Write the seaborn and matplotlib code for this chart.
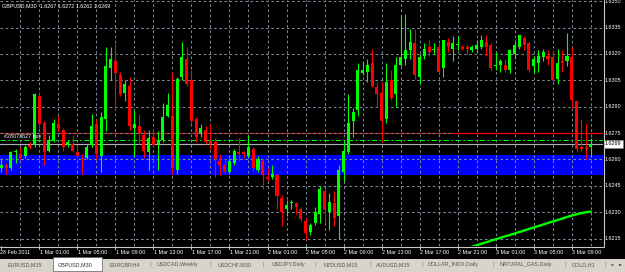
import matplotlib
matplotlib.use("Agg")
import matplotlib.pyplot as plt
import matplotlib.transforms as mtransforms
from matplotlib.patches import Rectangle
from matplotlib.lines import Line2D
import numpy as np
import pandas as pd
import seaborn as sns

# ---------------- data ----------------
symbol = "GBPUSD,M30"
opens = [1.6255, 1.6257, 1.6255, 1.6264, 1.6263, 1.6262, 1.6268, 1.6268, 1.6296, 1.6281,
         1.6265, 1.6271, 1.6280, 1.6277, 1.6268, 1.6269, 1.6264, 1.6261, 1.6261, 1.6268,
         1.6280, 1.6262, 1.6283, 1.6312, 1.6316, 1.6308, 1.6298, 1.6302, 1.6278, 1.6279,
         1.6274, 1.6264, 1.6273, 1.6269, 1.6271, 1.6285, 1.6285, 1.6254, 1.6307, 1.6317,
         1.6305, 1.6283, 1.6275, 1.6277, 1.6271, 1.6270, 1.6259, 1.6257, 1.6253, 1.6258,
         1.6264, 1.6264, 1.6262, 1.6266, 1.6254, 1.6259, 1.6250, 1.6250, 1.6251, 1.6238,
         1.6232, 1.6235, 1.6235, 1.6232, 1.6225, 1.6219, 1.6224, 1.6229, 1.6242, 1.6230,
         1.6235, 1.6228, 1.6253, 1.6264, 1.6282, 1.6288, 1.6309, 1.6310, 1.6315, 1.6301,
         1.6298, 1.6283, 1.6305, 1.6297, 1.6314, 1.6317, 1.6322, 1.6326, 1.6307, 1.6319,
         1.6324, 1.6322, 1.6324, 1.6312, 1.6327, 1.6323, 1.6325, 1.6324, 1.6324, 1.6322,
         1.6323, 1.6324, 1.6327, 1.6325, 1.6313, 1.6314, 1.6314, 1.6311, 1.6320, 1.6324,
         1.6329, 1.6326, 1.6313, 1.6315, 1.6318, 1.6319, 1.6318, 1.6306, 1.6316, 1.6316,
         1.6318, 1.6293, 1.6267, 1.6267, 1.6267]
highs = [1.6261, 1.6258, 1.6265, 1.6266, 1.6267, 1.6268, 1.6270, 1.6298, 1.6298, 1.6282,
         1.6274, 1.6283, 1.6285, 1.6278, 1.6271, 1.6274, 1.6268, 1.6263, 1.6269, 1.6286,
         1.6283, 1.6287, 1.6324, 1.6324, 1.6327, 1.6310, 1.6305, 1.6307, 1.6288, 1.6286,
         1.6277, 1.6277, 1.6277, 1.6276, 1.6292, 1.6298, 1.6310, 1.6307, 1.6327, 1.6324,
         1.6311, 1.6284, 1.6280, 1.6279, 1.6280, 1.6272, 1.6263, 1.6260, 1.6261, 1.6266,
         1.6272, 1.6265, 1.6274, 1.6267, 1.6262, 1.6261, 1.6255, 1.6257, 1.6252, 1.6240,
         1.6237, 1.6237, 1.6236, 1.6233, 1.6227, 1.6224, 1.6233, 1.6245, 1.6243, 1.6241,
         1.6242, 1.6257, 1.6271, 1.6297, 1.6289, 1.6315, 1.6316, 1.6317, 1.6323, 1.6304,
         1.6304, 1.6315, 1.6311, 1.6318, 1.6342, 1.6343, 1.6334, 1.6334, 1.6320, 1.6326,
         1.6328, 1.6326, 1.6326, 1.6328, 1.6329, 1.6330, 1.6330, 1.6325, 1.6325, 1.6325,
         1.6328, 1.6331, 1.6331, 1.6326, 1.6321, 1.6317, 1.6317, 1.6323, 1.6328, 1.6331,
         1.6330, 1.6327, 1.6319, 1.6322, 1.6323, 1.6322, 1.6322, 1.6323, 1.6322, 1.6332,
         1.6324, 1.6294, 1.6283, 1.6281, 1.6272]
lows = [1.6253, 1.6252, 1.6254, 1.6258, 1.6260, 1.6261, 1.6266, 1.6267, 1.6278, 1.6257,
        1.6264, 1.6270, 1.6276, 1.6265, 1.6267, 1.6264, 1.6261, 1.6252, 1.6260, 1.6267,
        1.6260, 1.6253, 1.6276, 1.6305, 1.6288, 1.6296, 1.6293, 1.6277, 1.6262, 1.6269,
        1.6261, 1.6254, 1.6267, 1.6254, 1.6270, 1.6284, 1.6252, 1.6252, 1.6305, 1.6302,
        1.6280, 1.6270, 1.6273, 1.6269, 1.6266, 1.6250, 1.6251, 1.6252, 1.6252, 1.6257,
        1.6259, 1.6261, 1.6261, 1.6253, 1.6253, 1.6243, 1.6248, 1.6249, 1.6232, 1.6222,
        1.6228, 1.6232, 1.6229, 1.6225, 1.6214, 1.6217, 1.6223, 1.6224, 1.6224, 1.6220,
        1.6222, 1.6215, 1.6248, 1.6263, 1.6273, 1.6285, 1.6308, 1.6304, 1.6301, 1.6290,
        1.6270, 1.6281, 1.6294, 1.6290, 1.6313, 1.6314, 1.6317, 1.6306, 1.6303, 1.6317,
        1.6319, 1.6320, 1.6309, 1.6307, 1.6321, 1.6316, 1.6322, 1.6322, 1.6320, 1.6321,
        1.6321, 1.6323, 1.6319, 1.6311, 1.6311, 1.6310, 1.6310, 1.6309, 1.6317, 1.6323,
        1.6322, 1.6310, 1.6309, 1.6310, 1.6316, 1.6314, 1.6304, 1.6303, 1.6310, 1.6313,
        1.6289, 1.6264, 1.6265, 1.6260, 1.6262]
closes = [1.6257, 1.6255, 1.6264, 1.6264, 1.6261, 1.6267, 1.6267, 1.6297, 1.6280, 1.6264,
          1.6271, 1.6281, 1.6278, 1.6267, 1.6270, 1.6265, 1.6262, 1.6260, 1.6267, 1.6279,
          1.6263, 1.6284, 1.6313, 1.6317, 1.6309, 1.6297, 1.6303, 1.6279, 1.6280, 1.6275,
          1.6265, 1.6272, 1.6268, 1.6271, 1.6284, 1.6291, 1.6255, 1.6306, 1.6318, 1.6303,
          1.6282, 1.6273, 1.6278, 1.6270, 1.6269, 1.6260, 1.6257, 1.6253, 1.6259, 1.6265,
          1.6263, 1.6263, 1.6267, 1.6255, 1.6260, 1.6251, 1.6249, 1.6252, 1.6239, 1.6230,
          1.6234, 1.6236, 1.6233, 1.6226, 1.6218, 1.6223, 1.6230, 1.6243, 1.6231, 1.6236,
          1.6227, 1.6254, 1.6265, 1.6281, 1.6287, 1.6311, 1.6311, 1.6314, 1.6302, 1.6297,
          1.6282, 1.6304, 1.6295, 1.6314, 1.6318, 1.6322, 1.6327, 1.6308, 1.6318, 1.6323,
          1.6321, 1.6323, 1.6310, 1.6328, 1.6324, 1.6326, 1.6325, 1.6323, 1.6323, 1.6324,
          1.6325, 1.6328, 1.6324, 1.6312, 1.6313, 1.6316, 1.6311, 1.6322, 1.6325, 1.6331,
          1.6325, 1.6311, 1.6317, 1.6319, 1.6321, 1.6317, 1.6305, 1.6315, 1.6315, 1.6319,
          1.6294, 1.6266, 1.6266, 1.6266, 1.6269]

# moving-average style line (bars 97..124)
ma_start_bar = 97
ma_values = [1.62086, 1.62095, 1.62104, 1.62112, 1.62121, 1.62129, 1.62138, 1.62146,
             1.62155, 1.62163, 1.62171, 1.62179, 1.62188, 1.62196, 1.62205, 1.62213,
             1.62222, 1.62230, 1.62239, 1.62247, 1.62256, 1.62264, 1.62273, 1.62281,
             1.62288, 1.62295, 1.62300, 1.62304]

price_ticks = [1.6350, 1.6335, 1.6320, 1.6305, 1.6290, 1.6275, 1.6260, 1.6245, 1.6230, 1.6215]
time_labels = ["28 Feb 2011", "1 Mar 01:00", "1 Mar 05:00", "1 Mar 09:00", "1 Mar 13:00",
               "1 Mar 17:00", "1 Mar 21:00", "2 Mar 01:00", "2 Mar 05:00", "2 Mar 09:00",
               "2 Mar 13:00", "2 Mar 17:00", "2 Mar 21:00", "3 Mar 01:00", "3 Mar 05:00",
               "3 Mar 09:00"]
bars_per_label = 8
bars_per_grid = 4

zone_low, zone_high = 1.62512, 1.62626
level_red = 1.6275
level_order = 1.6271
order_text = "#28073627 buy"
bid_price = closes[-1]

tabs = ["EURUSD,M15", "GBPUSD,M30", "EURGBP,H4", "USDCAD,Weekly", "USDCHF,M30",
        "USDJPY,Daily", "NZDUSD,M15", "AUDUSD,M15", "DOLLAR_INDX,Daily",
        "NATURAL_GAS,Daily", "GOLD,H1"]
active_tab = "GBPUSD,M30"

# ---------------- style ----------------
sns.set_style("dark")
plt.rcParams['font.family'] = ['Liberation Sans', 'DejaVu Sans']

W, H = 625, 272
fig = plt.figure(figsize=(W / 100, H / 100), dpi=100, facecolor='black')


def fx(px):
    return px / W


def fy(py):
    return 1 - py / H


CH_R, CH_B = 603, 246
ax = fig.add_axes([0, fy(CH_B), fx(CH_R), CH_B / H])
ax.set_facecolor('black')
ax.set_xlim(-0.267, 126.57)
ax.set_ylim(1.62108, 1.63507)
ax.set_xticks([])
ax.set_yticks([])
for s in ax.spines.values():
    s.set_visible(False)
ax.grid(False)

df = pd.DataFrame({"open": opens, "high": highs, "low": lows, "close": closes})
df["bar"] = np.arange(len(df))
df["up"] = df["close"] >= df["open"]
BULL, BEAR = '#00FF00', '#FF0000'
GRID = '#7A8898'

# zone
ax.axhspan(zone_low, zone_high, color='#0000FF', zorder=0.5, lw=0)

# grid
for p in price_ticks:
    ax.axhline(p, color=GRID, lw=0.75, ls=(0, (2.5, 2.5)), zorder=1)
for b in range(bars_per_grid, len(df) + 1, bars_per_grid):
    ax.axvline(b, color=GRID, lw=0.75, ls=(0, (2.5, 2.5)), zorder=1)

# horizontal levels
ax.axhline(level_red, color='#D00000', lw=0.8, zorder=0.9)
ax.plot([94.8, 126.57], [level_red, level_red], color='#FF0000', lw=0.8, zorder=4)
ax.axhline(level_order, color='#00FF00', lw=0.75, ls=(0, (5, 2.5, 1.5, 2.5)), zorder=1.5)
ax.axhline(bid_price, color='#B0B0B0', lw=0.8, zorder=1.5)
ax.text(0.55, 1.62733, order_text, color='white', fontsize=3.9, va='center', ha='left', zorder=5)

# candles
colors = np.where(df["up"], BULL, BEAR)
ax.vlines(df["bar"], df["low"], df["high"], colors=colors, lw=0.8, zorder=3)
body_h = np.maximum((df["close"] - df["open"]).abs(), 0.00006)
body_b = np.minimum(df["open"], df["close"])
ax.bar(df["bar"], body_h, bottom=body_b, width=0.64, color=colors, lw=0, zorder=3.5)

# MA line
ma_df = pd.DataFrame({"bar": np.arange(ma_start_bar, ma_start_bar + len(ma_values)),
                      "ma": ma_values})
sns.lineplot(data=ma_df, x="bar", y="ma", ax=ax, color='#00FF00', lw=1.7, zorder=4)
ax.set_xlabel("")
ax.set_ylabel("")
ax.set_xlim(-0.267, 126.57)
ax.set_ylim(1.62108, 1.63507)

# axis frame lines
fig.add_artist(Line2D([fx(CH_R + 0.5)] * 2, [fy(0), fy(CH_B)], color='#C8C8C8', lw=0.8))
fig.add_artist(Line2D([0, fx(CH_R + 0.5)], [fy(CH_B + 0.5)] * 2, color='#C8C8C8', lw=0.8))

# price labels
tr_y = mtransforms.blended_transform_factory(fig.transFigure, ax.transData)
for p in price_ticks:
    ax.text(fx(605), p, f"{p:.4f}", transform=tr_y, color='white', fontsize=3.9,
            va='center', ha='left', clip_on=False)
ax.text(fx(605), bid_price, f"{bid_price:.4f}", transform=tr_y, color='black', fontsize=3.9,
        va='center', ha='left', clip_on=False, zorder=6,
        bbox=dict(boxstyle='square,pad=0.25', fc='white', ec='#808080', lw=0.5))

# time labels
tr_x = mtransforms.blended_transform_factory(ax.transData, fig.transFigure)
for k, lab in enumerate(time_labels):
    b = k * bars_per_label
    ax.text(b + 0.1 if k else -0.2, fy(252.5), lab, transform=tr_x, color='white',
            fontsize=3.9, va='center', ha='left', clip_on=False)
    ax.plot([b, b], [fy(CH_B), fy(CH_B + 3)], transform=tr_x, color='#C8C8C8',
            lw=0.7, clip_on=False)

# title
o, h, l, c = opens[-1], highs[-1], lows[-1], closes[-1]
fig.text(fx(2), fy(6), f"{symbol}  {o:.4f} {h:.4f} {l:.4f} {c:.4f}", color='white',
         fontsize=3.9, va='center', ha='left')

# tab bar
fig.add_artist(Rectangle((0, 0), 1, fy(258.5), transform=fig.transFigure,
                         fc='#D8D4CC', ec='none'))
tab_x = [7, 58, 110, 157, 218, 272, 323, 376, 428, 499, 572]
sep_x = [150, 210, 263, 315, 370, 422, 493, 565, 605]
for t, x in zip(tabs, tab_x):
    if t == active_tab:
        fig.add_artist(Rectangle((fx(53), fy(271)), fx(49), (271 - 257) / H,
                                 transform=fig.transFigure, fc='white', ec='#606060', lw=0.5))
    fig.text(fx(x), fy(264.5), t, color='#303030' if t == active_tab else '#555555',
             fontsize=3.9, va='center', ha='left')
for x in sep_x:
    fig.text(fx(x), fy(264.5), "|", color='#888888', fontsize=4.5, va='center', ha='center')
fig.text(fx(612), fy(264.5), "◄", color='#505050', fontsize=3.2, va='center', ha='center',
         family=['DejaVu Sans'])
fig.text(fx(621), fy(264.5), "►", color='#303030', fontsize=3.2, va='center', ha='center',
         family=['DejaVu Sans'])

fig.savefig("out.png", dpi=100, facecolor='black')
